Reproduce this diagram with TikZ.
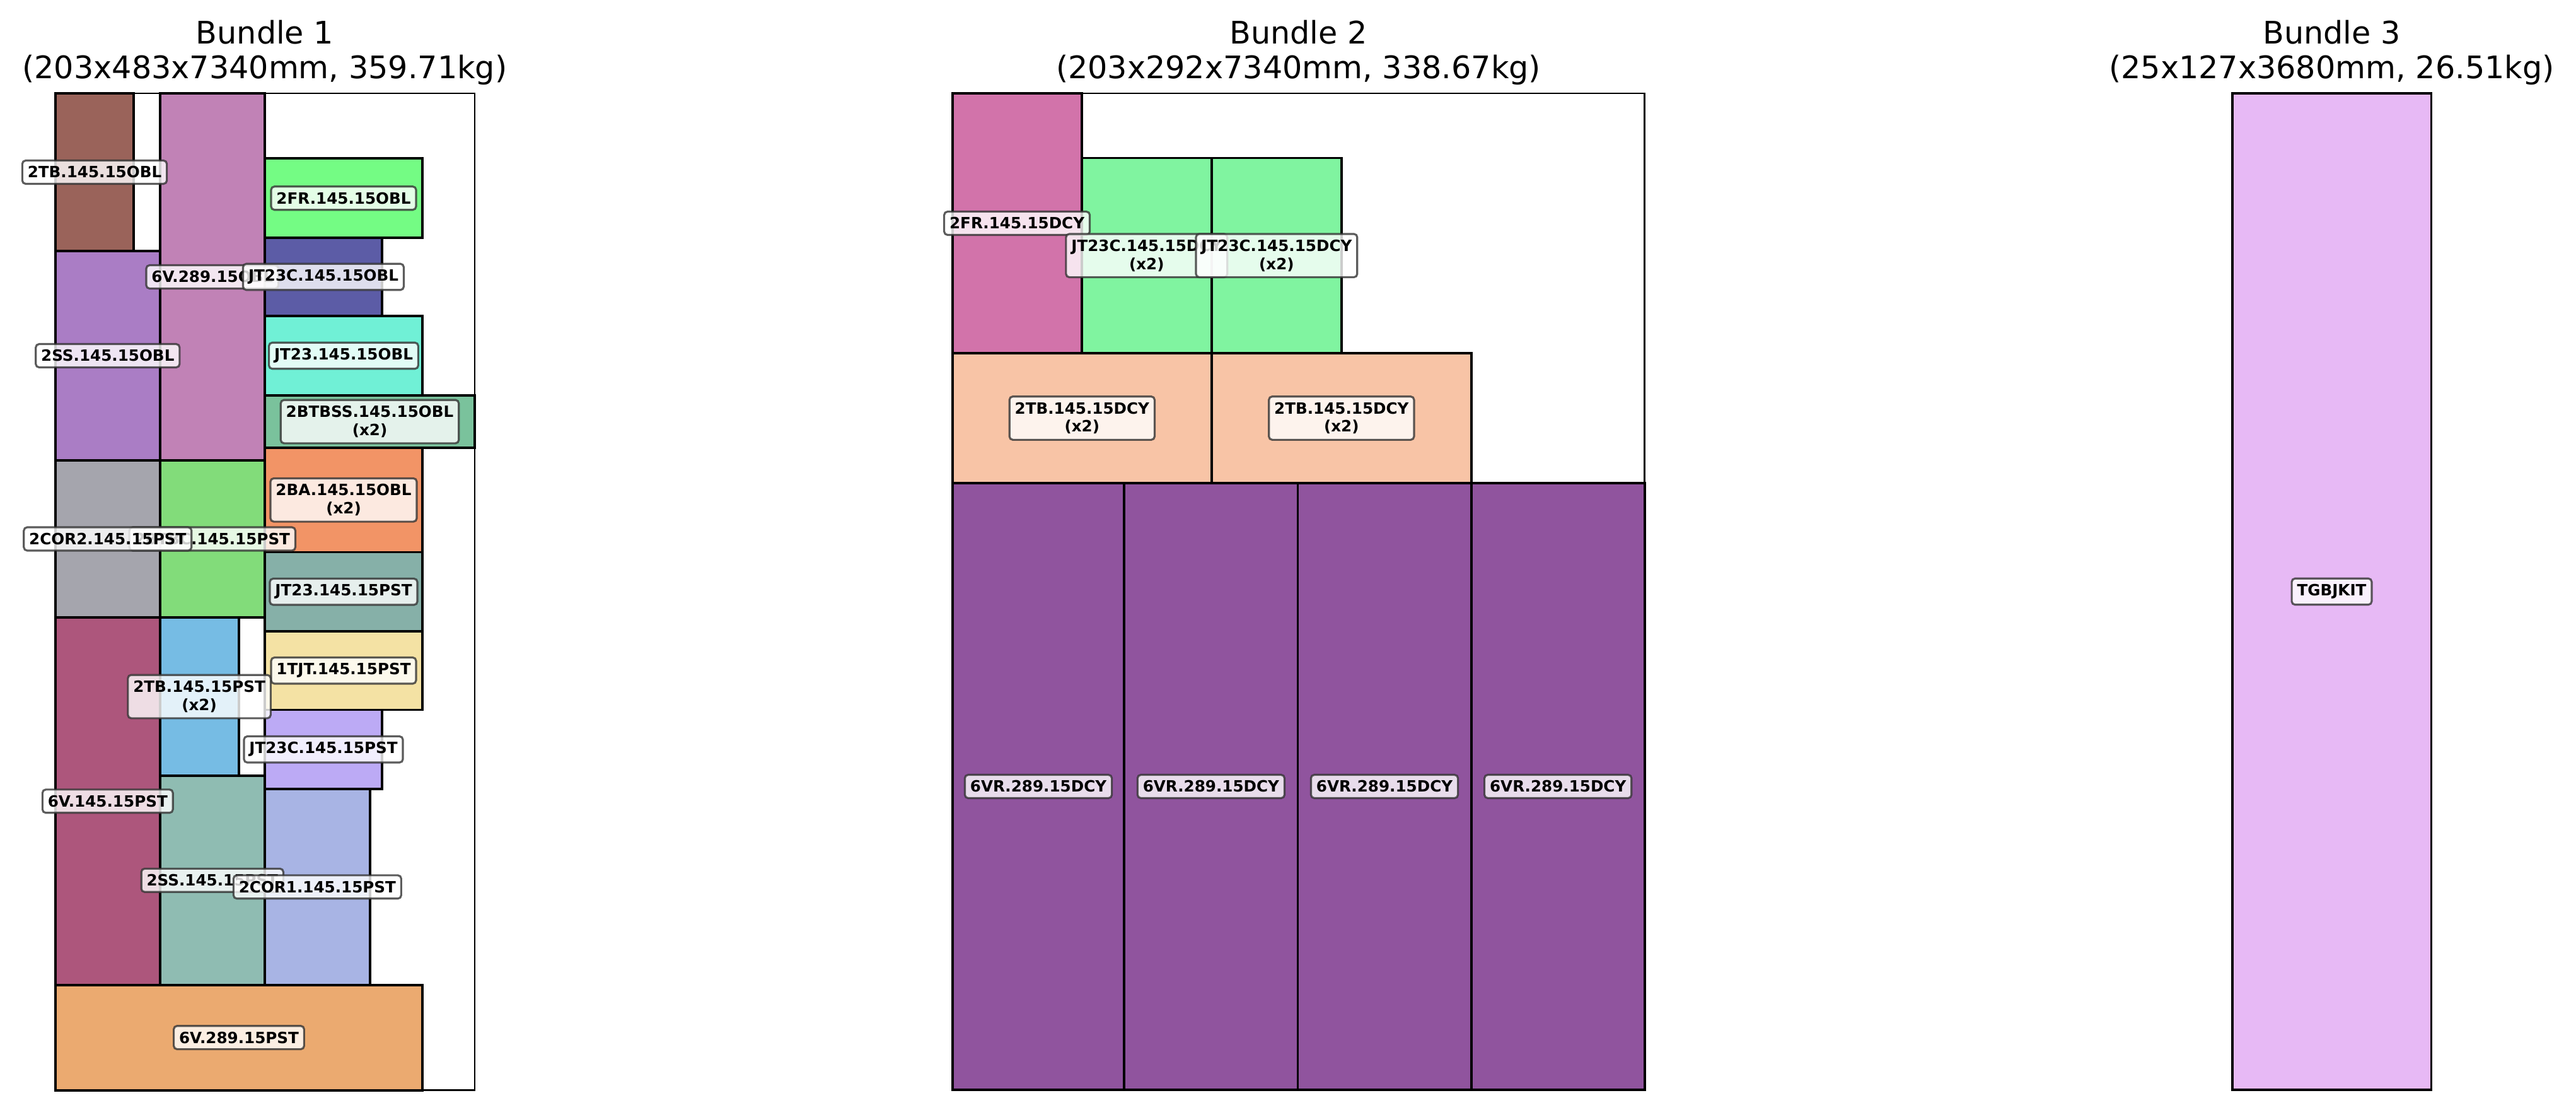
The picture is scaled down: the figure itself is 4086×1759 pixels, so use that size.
\documentclass[tikz,border=0pt]{standalone}
\usepackage{fontspec}
\setmainfont{DejaVu Sans}
\usepackage{tikz}
% item colours
\definecolor{cBrown}{HTML}{9A635A}
\definecolor{cPink}{HTML}{C182B6}
\definecolor{cGreen}{HTML}{74FC84}
\definecolor{cNavy}{HTML}{5C5CA6}
\definecolor{cPurple}{HTML}{AA7DC5}
\definecolor{cCyan}{HTML}{70F0D6}
\definecolor{cSea}{HTML}{7AC29C}
\definecolor{cOrange}{HTML}{F29466}
\definecolor{cGray}{HTML}{A5A5AD}
\definecolor{cLime}{HTML}{82DC7A}
\definecolor{cSlate}{HTML}{86B0A8}
\definecolor{cSand}{HTML}{F4E2A4}
\definecolor{cRasp}{HTML}{AD567C}
\definecolor{cSky}{HTML}{76BCE4}
\definecolor{cLav}{HTML}{BCAAF5}
\definecolor{cTeal}{HTML}{8FBCB2}
\definecolor{cPeri}{HTML}{A8B4E4}
\definecolor{cApricot}{HTML}{EBAA70}
\definecolor{cMagenta}{HTML}{D273AA}
\definecolor{cMint}{HTML}{80F4A0}
\definecolor{cPeach}{HTML}{F8C4A6}
\definecolor{cPlum}{HTML}{90549E}
\definecolor{cLilac}{HTML}{E7B9F5}

\begin{document}
\begin{tikzpicture}[x=0.01cm,y=-0.01cm,
	bundle/.style={draw=black,line width=0.8pt},
	item/.style={draw=black,line width=1.1pt},
	lbl/.style={draw=black!80,draw opacity=0.8,fill=white,fill opacity=0.8,text opacity=1,
		rounded corners=1.5pt,line width=0.9pt,align=center,inner xsep=2.4pt,inner ysep=2.6pt,
		font=\fontsize{7}{8.2}\selectfont\bfseries},
	ttl/.style={anchor=base,font=\fontsize{14}{16}\selectfont}]
	\useasboundingbox (0,0) rectangle (4086,1759);
	% titles
	\node[ttl] (t1a) at (420,69) {Bundle 1};
	\node[ttl] (t1b) at (420,124) {(203x483x7340mm, 359.71kg)};
	\node[ttl] (t2a) at (2059.6,69) {Bundle 2};
	\node[ttl] (t2b) at (2059.6,124) {(203x292x7340mm, 338.67kg)};
	\node[ttl] (t3a) at (3698.5,69) {Bundle 3};
	\node[ttl] (t3b) at (3698.5,124) {(25x127x3680mm, 26.51kg)};
	
	% bundle 1
	\draw[bundle] (88,148) rectangle (753,1728.6);
	\draw[item,fill=cBrown] (88,148) rectangle (212,398);
	\draw[item,fill=cPink] (253.6,148) rectangle (420,730);
	\draw[item,fill=cGreen] (420,251.4) rectangle (670,377);
	\draw[item,fill=cNavy] (420,377) rectangle (606,501);
	\draw[item,fill=cPurple] (88,398) rectangle (253.6,730);
	\draw[item,fill=cCyan] (420,501) rectangle (670,627);
	\draw[item,fill=cSea] (420,627) rectangle (753,710);
	\draw[item,fill=cOrange] (420,710) rectangle (670,875.5);
	\draw[item,fill=cGray] (88,730) rectangle (253.6,979);
	\draw[item,fill=cLime] (253.6,730) rectangle (420,979);
	\draw[item,fill=cSlate] (420,875.5) rectangle (670,1001);
	\draw[item,fill=cSand] (420,1001) rectangle (670,1125.5);
	\draw[item,fill=cRasp] (88,979) rectangle (253.6,1561.6);
	\draw[item,fill=cSky] (253.6,979) rectangle (378.6,1230);
	\draw[item,fill=cLav] (420,1125.5) rectangle (606,1251);
	\draw[item,fill=cTeal] (253.6,1230) rectangle (420,1561.6);
	\draw[item,fill=cPeri] (420,1251) rectangle (586.7,1561.6);
	\draw[item,fill=cApricot] (88,1561.6) rectangle (670,1728.6);
	
	\node[lbl] (tbobl) at (150,273) {2TB.145.15OBL};
	\node[lbl] (vobl) at (336.8,439) {6V.289.15OBL};
	\node[lbl] (frobl) at (545,314.2) {2FR.145.15OBL};
	\node[lbl] (jtcobl) at (513,439) {JT23C.145.15OBL};
	\node[lbl] (ssobl) at (170.8,564) {2SS.145.15OBL};
	\node[lbl] (jtobl) at (545,564) {JT23.145.15OBL};
	\node[lbl] (btbssobl) at (586.5,668.5) {2BTBSS.145.15OBL\\(x2)};
	\node[lbl] (baobl) at (545,792.75) {2BA.145.15OBL\\(x2)};
	\node[lbl] (btbcpst) at (336.8,854.5) {2BTBC.145.15PST};
	\node[lbl] (cortwopst) at (170.8,854.5) {2COR2.145.15PST};
	\node[lbl] (jtpst) at (545,938.25) {JT23.145.15PST};
	\node[lbl] (tjtpst) at (545,1063.25) {1TJT.145.15PST};
	\node[lbl] (vpst) at (170.8,1270.3) {6V.145.15PST};
	\node[lbl] (tbpst) at (316.1,1104.5) {2TB.145.15PST\\(x2)};
	\node[lbl] (jtcpst) at (513,1188.25) {JT23C.145.15PST};
	\node[lbl] (sspst) at (336.8,1395.8) {2SS.145.15PST};
	\node[lbl] (coronepst) at (503.4,1406.3) {2COR1.145.15PST};
	\node[lbl] (vvpst) at (379,1645.1) {6V.289.15PST};
	
	% bundle 2
	\draw[bundle] (1510.6,148) rectangle (2608.7,1728);
	\draw[item,fill=cMagenta] (1510.6,148) rectangle (1715.6,560);
	\draw[item,fill=cMint] (1715.6,250.5) rectangle (1922,560);
	\draw[item,fill=cMint] (1922,250.5) rectangle (2127.8,560);
	\draw[item,fill=cPeach] (1510.6,560) rectangle (1922,766);
	\draw[item,fill=cPeach] (1922,560) rectangle (2333.6,766);
	\draw[item,fill=cPlum] (1510.6,766) rectangle (1783.3,1728);
	\draw[item,fill=cPlum] (1783.3,766) rectangle (2058.5,1728);
	\draw[item,fill=cPlum] (2058.5,766) rectangle (2333.6,1728);
	\draw[item,fill=cPlum] (2333.6,766) rectangle (2608.7,1728);
	
	\node[lbl] (frdcy) at (1613.1,354) {2FR.145.15DCY};
	\node[lbl] (jtcdcya) at (1818.8,405.25) {JT23C.145.15DCY\\(x2)};
	\node[lbl] (jtcdcyb) at (2024.9,405.25) {JT23C.145.15DCY\\(x2)};
	\node[lbl] (tbdcya) at (1716.3,663) {2TB.145.15DCY\\(x2)};
	\node[lbl] (tbdcyb) at (2127.8,663) {2TB.145.15DCY\\(x2)};
	\node[lbl] (vrdcya) at (1647,1247) {6VR.289.15DCY};
	\node[lbl] (vrdcyb) at (1920.9,1247) {6VR.289.15DCY};
	\node[lbl] (vrdcyc) at (2196,1247) {6VR.289.15DCY};
	\node[lbl] (vrdcyd) at (2471.2,1247) {6VR.289.15DCY};
	
	% bundle 3
	\draw[bundle] (3540.6,148) rectangle (3856.4,1728);
	\draw[item,fill=cLilac] (3540.6,148) rectangle (3856.4,1728);
	\node[lbl] (kit) at (3698.5,938) {TGBJKIT};
\end{tikzpicture}
\end{document}
